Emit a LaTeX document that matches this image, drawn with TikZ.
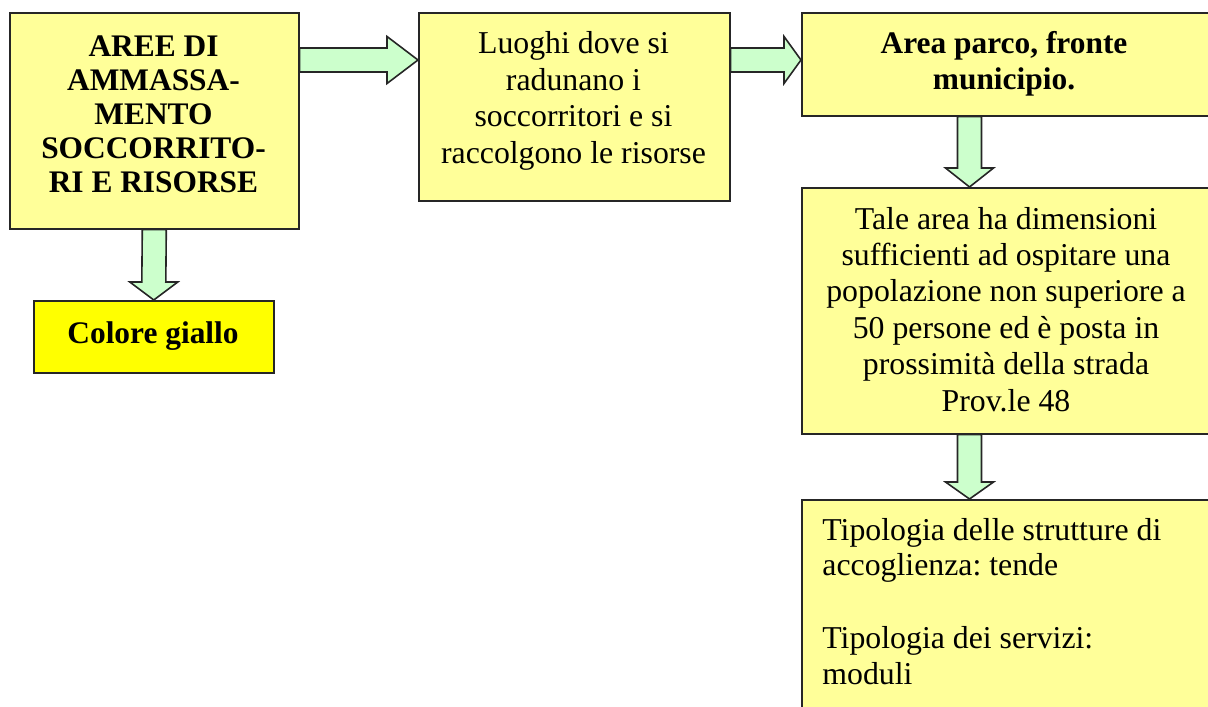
\documentclass[tikz,border=0pt]{standalone}
\usepackage{fontspec}
\setmainfont{Liberation Serif}
\frenchspacing
\usetikzlibrary{calc,positioning,backgrounds}
\definecolor{paleyellow}{HTML}{FFFF99}
\definecolor{palegreen}{HTML}{CCFFCC}
\definecolor{brightyellow}{HTML}{FFFF00}

% block arrows (lengths in px of the picture grid)
\newcommand{\harrow}[3]{%
  \draw[blk] ($(#1)+(0,-12)$) -- ($(#2)+(-#3,-12)$) -- ($(#2)+(-#3,-23.5)$)
    -- (#2) -- ($(#2)+(-#3,23.5)$) -- ($(#2)+(-#3,12)$) -- ($(#1)+(0,12)$) -- cycle;}
\newcommand{\varrow}[3]{%
  \draw[blk] ($(#1)+(-12,0)$) -- ($(#2)+(-12,-#3)$) -- ($(#2)+(-24,-#3)$)
    -- (#2) -- ($(#2)+(24,-#3)$) -- ($(#2)+(12,-#3)$) -- ($(#1)+(12,0)$) -- cycle;}

\begin{document}
\begin{tikzpicture}[
    x=0.5pt, y=-0.5pt,
    box/.style={draw=black!85, line width=0.8pt, fill=paleyellow,
                inner sep=0pt, anchor=north west},
    txt/.style={font=\fontsize{15.9}{18.2}\selectfont, align=center,
                inner sep=0pt, anchor=base},
    txtb/.style={txt, font=\fontsize{15.7}{17}\selectfont\bfseries},
    blk/.style={draw=black!85, line width=0.8pt, fill=palegreen, line join=miter}
  ]
  \useasboundingbox (0,0) rectangle (1208,706);

  % boxes
  \node[box, minimum width=144.5pt, minimum height=108pt] (aree) at (9,12) {};
  \node[box, minimum width=155.5pt, minimum height=94pt] (luoghi) at (418,12) {};
  \node[box, minimum width=204.5pt, minimum height=51.5pt] (parco) at (801,12) {};
  \node[box, minimum width=204.5pt, minimum height=123pt] (tale) at (801,187) {};
  \node[box, minimum width=204.5pt, minimum height=110.5pt] (tipologia) at (801,499) {};
  \node[box, fill=brightyellow, minimum width=120pt, minimum height=36pt] (giallo) at (33,300) {};

  % texts (anchored at the baseline of their last line)
  \node[txtb] (areetxt) at (153.5,192)
    {AREE DI\\AMMASSA-\\MENTO\\SOCCORRITO-\\RI E RISORSE};
  \node[txt] (luoghitxt) at (573.5,163)
    {Luoghi dove si\\radunano i\\soccorritori e si\\raccolgono le risorse};
  \node[txtb, font=\fontsize{15.7}{18.2}\selectfont\bfseries] (parcotxt) at (1004,90)
    {Area parco, fronte\\municipio.};
  \node[txt] (taletxt) at (1006,411)
    {Tale area ha dimensioni\\sufficienti ad ospitare una\\popolazione non superiore a\\
     50 persone ed è posta in\\prossimità della strada\\Prov.le 48};
  \node[txt, font=\fontsize{15.9}{17.6}\selectfont, align=left, anchor=base west]
    (tipologiatxt) at (822,684)
    {Tipologia delle strutture di\\accoglienza: tende\\[18.9pt]Tipologia dei servizi:\\moduli};
  \node[txtb] (gialloitxt) at (153,343) {Colore giallo};

  % arrows
  \begin{scope}[on background layer]
    \harrow{[yshift=-24pt]aree.north east}{[yshift=-24pt]luoghi.north west}{31}
    \harrow{[yshift=-24pt]luoghi.north east}{[yshift=-24pt]parco.north west}{17}
    \varrow{aree.south}{giallo.north}{18}
    \varrow{[xshift=84.25pt]parco.south west}{[xshift=84.25pt]tale.north west}{19}
    \varrow{[xshift=84.25pt]tale.south west}{[xshift=84.25pt]tipologia.north west}{17}
  \end{scope}
\end{tikzpicture}
\end{document}
